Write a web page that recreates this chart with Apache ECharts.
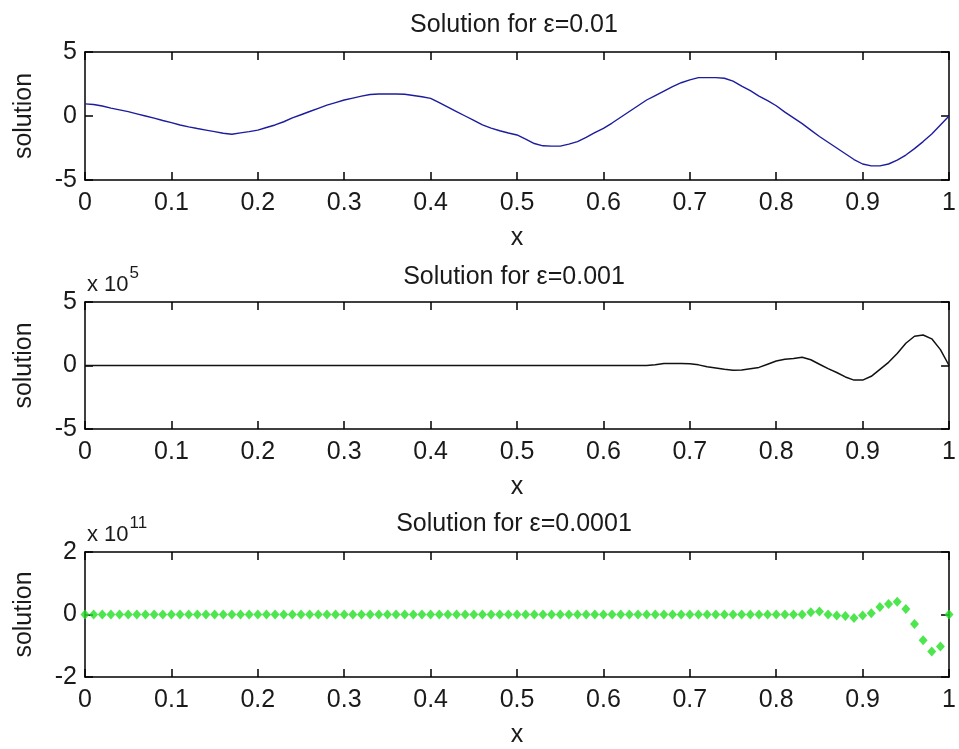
<!DOCTYPE html>
<html>
<head>
<meta charset="utf-8">
<script src="https://cdn.jsdelivr.net/npm/echarts@6/dist/echarts.min.js"></script>
<style>
html,body{margin:0;padding:0;background:#fff;}
#chart{width:959px;height:749px;}
</style>
</head>
<body>
<div id="chart"></div>
<script>
// x grid (step 0.01)
const xValues = [
  0.00,0.01,0.02,0.03,0.04,0.05,0.06,0.07,0.08,0.09,
  0.10,0.11,0.12,0.13,0.14,0.15,0.16,0.17,0.18,0.19,
  0.20,0.21,0.22,0.23,0.24,0.25,0.26,0.27,0.28,0.29,
  0.30,0.31,0.32,0.33,0.34,0.35,0.36,0.37,0.38,0.39,
  0.40,0.41,0.42,0.43,0.44,0.45,0.46,0.47,0.48,0.49,
  0.50,0.51,0.52,0.53,0.54,0.55,0.56,0.57,0.58,0.59,
  0.60,0.61,0.62,0.63,0.64,0.65,0.66,0.67,0.68,0.69,
  0.70,0.71,0.72,0.73,0.74,0.75,0.76,0.77,0.78,0.79,
  0.80,0.81,0.82,0.83,0.84,0.85,0.86,0.87,0.88,0.89,
  0.90,0.91,0.92,0.93,0.94,0.95,0.96,0.97,0.98,0.99,
  1.00
];
// eps = 0.01
const solEps01 = [
  0.95,0.9,0.78,0.62,0.48,0.34,0.17,0.0,-0.17,-0.35,
  -0.52,-0.7,-0.85,-0.98,-1.1,-1.22,-1.35,-1.43,-1.32,-1.22,
  -1.1,-0.9,-0.7,-0.45,-0.15,0.1,0.35,0.6,0.85,1.05,
  1.25,1.4,1.55,1.68,1.72,1.72,1.72,1.7,1.6,1.5,
  1.38,1.05,0.7,0.35,0.0,-0.35,-0.7,-0.95,-1.15,-1.33,
  -1.48,-1.8,-2.15,-2.33,-2.35,-2.35,-2.2,-2.0,-1.67,-1.3,
  -0.96,-0.55,-0.1,0.35,0.8,1.25,1.6,1.95,2.3,2.6,
  2.82,3.0,3.0,3.0,2.95,2.73,2.34,1.98,1.56,1.2,
  0.8,0.3,-0.15,-0.6,-1.1,-1.6,-2.05,-2.5,-2.95,-3.4,
  -3.75,-3.9,-3.9,-3.75,-3.45,-3.05,-2.55,-2.0,-1.4,-0.7,
  0.0
];
// eps = 0.001, in units of 1e5
const solEps001 = [
  0,0,0,0,0,0,0,0,0,0,
  0,0,0,0,0,0,0,0,0,0,
  0,0,0,0,0,0,0,0,0,0,
  0,0,0,0,0,0,0,0,0,0,
  0,0,0,0,0,0,0,0,0,0,
  0,0,0,0,0,0,0,0,0,0,
  0,0,0,0,0,0,0.05,0.16,0.16,0.16,
  0.14,0.05,-0.1,-0.2,-0.3,-0.37,-0.35,-0.25,-0.15,0.1,
  0.35,0.5,0.55,0.65,0.45,0.1,-0.25,-0.55,-0.9,-1.15,
  -1.15,-0.85,-0.3,0.25,0.95,1.75,2.3,2.4,2.1,1.25,
  0
];
// eps = 0.0001, in units of 1e11
const solEps0001 = [
  0,0,0,0,0,0,0,0,0,0,
  0,0,0,0,0,0,0,0,0,0,
  0,0,0,0,0,0,0,0,0,0,
  0,0,0,0,0,0,0,0,0,0,
  0,0,0,0,0,0,0,0,0,0,
  0,0,0,0,0,0,0,0,0,0,
  0,0,0,0,0,0,0,0,0,0,
  0,0,0,0,0,0,0,0,0,0,
  0,0,0,0,0.07,0.1,0,-0.03,-0.05,-0.11,
  -0.03,0.04,0.24,0.34,0.41,0.18,-0.3,-0.82,-1.18,-1.02,
  0
];
const titles = ['Solution for \u03b5=0.01','Solution for \u03b5=0.001','Solution for \u03b5=0.0001'];
const exponents = [null,'5','11'];
const yRanges = [[-5,5,5],[-5,5,5],[-2,2,2]];
const xLabel = 'x';
const yLabel = 'solution';

const FONT = 'Liberation Sans, Arial, sans-serif';
const FS = 25;
const TXT = '#1a1a1a';
const grids = [
  {left:85, top:52, width:867, height:128},
  {left:85, top:302, width:867, height:127},
  {left:85, top:552, width:867, height:125}
];
const lineStyle = {color:'#000', width:1.5};
const xAxes = [], yAxes = [];
grids.forEach((g,i)=>{
  const [ymin,ymax,yint] = yRanges[i];
  xAxes.push({
    type:'value', gridIndex:i, min:0, max:1, interval:0.1, position:'bottom',
    axisLine:{show:true,onZero:false,lineStyle},
    axisTick:{show:true,inside:true,length:8,lineStyle},
    axisLabel:{show:true,margin:11,fontSize:FS,fontFamily:FONT,color:TXT,
      formatter:v=>String(Math.round(v*10)/10)},
    splitLine:{show:false},
    name:xLabel, nameLocation:'middle', nameGap:46,
    nameTextStyle:{fontSize:FS,fontFamily:FONT,color:TXT}
  });
  xAxes.push({
    type:'value', gridIndex:i, min:0, max:1, interval:0.1, position:'top',
    axisLine:{show:true,onZero:false,lineStyle},
    axisTick:{show:true,inside:true,length:8,lineStyle},
    axisLabel:{show:false}, splitLine:{show:false}
  });
  yAxes.push({
    type:'value', gridIndex:i, min:ymin, max:ymax, interval:yint, position:'left',
    axisLine:{show:true,onZero:false,lineStyle},
    axisTick:{show:true,inside:true,length:8,lineStyle},
    axisLabel:{show:true,margin:8,fontSize:FS,fontFamily:FONT,color:TXT},
    splitLine:{show:false},
    name:yLabel, nameLocation:'middle', nameGap:48, nameRotate:90,
    nameTextStyle:{fontSize:FS,fontFamily:FONT,color:TXT}
  });
  yAxes.push({
    type:'value', gridIndex:i, min:ymin, max:ymax, interval:yint, position:'right',
    axisLine:{show:true,onZero:false,lineStyle},
    axisTick:{show:true,inside:true,length:8,lineStyle},
    axisLabel:{show:false}, splitLine:{show:false}
  });
});

const titleTops = [8, 260, 507];
const title = titles.map((t,i)=>({
  text:t, left:509, top:titleTops[i], textAlign:'center',
  textStyle:{fontSize:FS,fontWeight:'normal',fontFamily:FONT,color:TXT}
}));
exponents.forEach((e,i)=>{
  if(!e) return;
  title.push({
    text:'{a|x 10}{b|'+e+'}', left:82, top:grids[i].top-42,
    textStyle:{fontWeight:'normal',rich:{
      a:{fontSize:FS-3,fontWeight:'normal',fontFamily:FONT,color:TXT,verticalAlign:'bottom'},
      b:{fontSize:FS-8,fontWeight:'normal',fontFamily:FONT,color:TXT,verticalAlign:'top',padding:[0,0,14,1]}
    }}
  });
});

const chart = echarts.init(document.getElementById('chart'),null,{renderer:'canvas'});
chart.setOption({
  animation:false,
  backgroundColor:'#ffffff',
  title,
  grid:grids,
  xAxis:xAxes,
  yAxis:yAxes,
  series:[
    {type:'line', xAxisIndex:0, yAxisIndex:0, showSymbol:false,
     lineStyle:{color:'#1c1c9e',width:1.4},
     data:xValues.map((x,k)=>[x,solEps01[k]])},
    {type:'line', xAxisIndex:2, yAxisIndex:2, showSymbol:false,
     lineStyle:{color:'#111',width:1.5},
     data:xValues.map((x,k)=>[x,solEps001[k]])},
    {type:'scatter', xAxisIndex:4, yAxisIndex:4, symbol:'diamond', symbolSize:[9,10],
     clip:false, itemStyle:{color:'#22e022'},
     data:xValues.map((x,k)=>[x,solEps0001[k]])}
  ]
});
</script>
</body>
</html>
